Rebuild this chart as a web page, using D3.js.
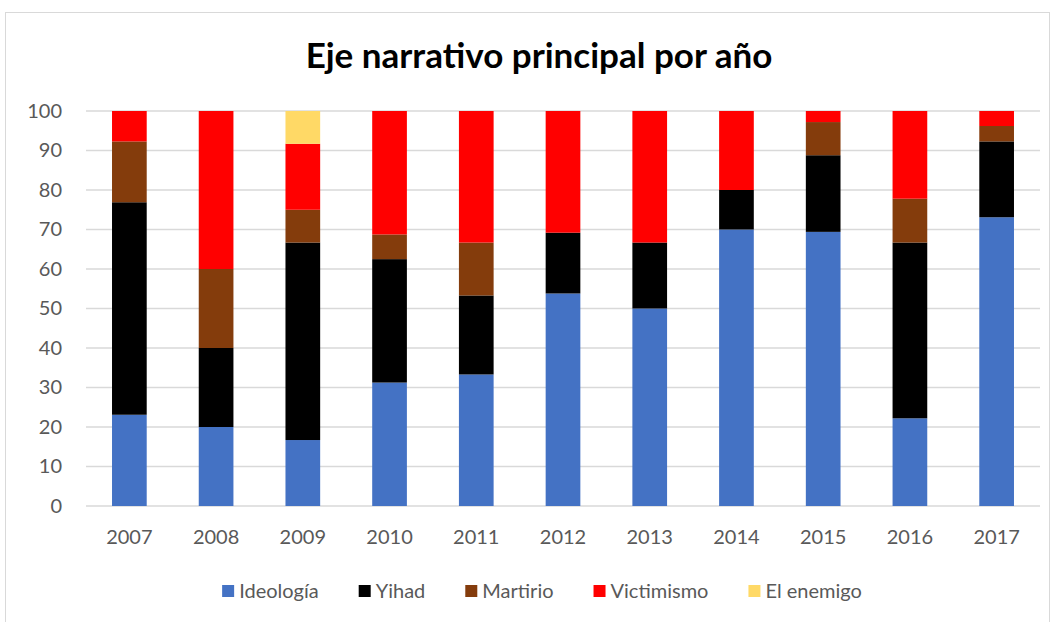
<!DOCTYPE html>
<html>
<head>
<meta charset="utf-8">
<script src="https://cdn.jsdelivr.net/npm/d3@7"></script>
<style>
  body { margin: 0; background: #fff; }
  svg { font-family: Lato, "Open Sans", sans-serif; }
</style>
</head>
<body>
<svg id="chart" width="1055" height="622"></svg>
<script>
const years = ["2007", "2008", "2009", "2010", "2011", "2012", "2013", "2014", "2015", "2016", "2017"];
const seriesNames = ["Ideología", "Yihad", "Martirio", "Victimismo", "El enemigo"];
const ideologia  = [23.1, 20, 16.7, 31.25, 33.3, 53.8, 50, 70, 69.4, 22.2, 73.1];
const yihad      = [53.8, 20, 50, 31.25, 20, 15.4, 16.7, 10, 19.4, 44.5, 19.2];
const martirio   = [15.4, 20, 8.3, 6.25, 13.4, 0, 0, 0, 8.4, 11.1, 3.9];
const victimismo = [7.7, 40, 16.7, 31.25, 33.3, 30.8, 33.3, 20, 2.8, 22.2, 3.8];
const enemigo    = [0, 0, 8.3, 0, 0, 0, 0, 0, 0, 0, 0];
const yTicks = [0, 10, 20, 30, 40, 50, 60, 70, 80, 90, 100];
const colors = ["#4472C4", "#000000", "#843C0C", "#FF0000", "#FFD966"];

const table = years.map((yr, i) => ({
    year: yr,
    "Ideología": ideologia[i],
    "Yihad": yihad[i],
    "Martirio": martirio[i],
    "Victimismo": victimismo[i],
    "El enemigo": enemigo[i]
}));

const svg = d3.select("#chart");
const mLeft = 86, mRight = 1040, mTop = 111, mBottom = 506;

// chart border
svg.append("rect")
    .attr("x", 5.5).attr("y", 12.5)
    .attr("width", 1044).attr("height", 612)
    .attr("fill", "none").attr("stroke", "#d9d9d9");

svg.append("text")
    .attr("x", 539).attr("y", 68)
    .attr("text-anchor", "middle")
    .attr("font-size", 35).attr("font-weight", "bold")
    .attr("fill", "#000")
    .text("Eje narrativo principal por año");

const x = d3.scaleBand().domain(years).range([mLeft, mRight]).paddingInner(0.6).paddingOuter(0.3);
const y = d3.scaleLinear().domain([0, 100]).range([mBottom, mTop]);
const color = d3.scaleOrdinal().domain(seriesNames).range(colors);

// gridlines
svg.append("g").selectAll("line")
    .data(yTicks)
    .join("line")
    .attr("x1", mLeft).attr("x2", mRight)
    .attr("y1", d => y(d)).attr("y2", d => y(d))
    .attr("stroke", "#d9d9d9").attr("stroke-width", 1.5);

const stacked = d3.stack().keys(seriesNames)(table);

svg.append("g").selectAll("g")
    .data(stacked)
    .join("g")
    .attr("fill", d => color(d.key))
    .selectAll("rect")
    .data(d => d.filter(p => p[1] - p[0] > 0))
    .join("rect")
    .attr("x", d => x(d.data.year))
    .attr("width", x.bandwidth())
    .attr("y", d => y(d[1]))
    .attr("height", d => y(d[0]) - y(d[1]));

// y axis labels
const yAxis = svg.append("g")
    .attr("transform", `translate(${mLeft},0)`)
    .call(d3.axisLeft(y).tickValues(yTicks).tickSize(0).tickPadding(24));
yAxis.select(".domain").remove();
yAxis.selectAll("text").attr("font-size", 20).attr("fill", "#595959").attr("font-family", "Lato, sans-serif");

// x axis labels
const xAxis = svg.append("g")
    .attr("transform", `translate(0,${mBottom})`)
    .call(d3.axisBottom(x).tickSize(0).tickPadding(24));
xAxis.select(".domain").remove();
xAxis.selectAll("text").attr("font-size", 20).attr("fill", "#595959").attr("font-family", "Lato, sans-serif");

// legend
const legend = svg.append("g");
const items = legend.selectAll("g")
    .data(seriesNames)
    .join("g");
items.append("rect")
    .attr("width", 12).attr("height", 12)
    .attr("y", -13)
    .attr("fill", d => color(d));
items.append("text")
    .attr("x", 17).attr("y", 0)
    .attr("font-size", 20).attr("fill", "#595959")
    .text(d => d);

const gap = 40;
let pos = 0;
items.each(function () {
    const w = this.getBBox().width;
    d3.select(this).attr("transform", `translate(${pos},0)`);
    pos += w + gap;
});
const total = pos - gap;
legend.attr("transform", `translate(${542 - total / 2},598)`);
</script>
</body>
</html>
